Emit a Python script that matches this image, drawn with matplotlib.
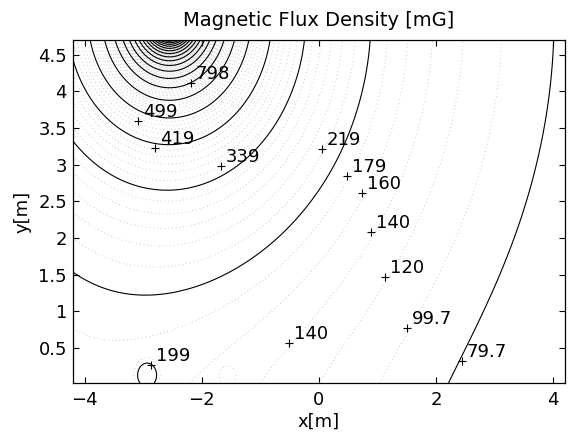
import numpy as np
import matplotlib
matplotlib.use("Agg")
from matplotlib import pyplot as plt

plt.rcParams['font.family'] = ['DejaVu Sans']

## overhead line (main source) and a broad background source
line_x = -2.55
line_y = 5.04
line_amp = 800.0
line_r0 = 5.66
bg_x = -6.69
bg_y = -7.36
bg_amp = 414.0
bg_sig = 4.01

## two small local sources at the ground (flat topped bumps)
spot_x = [-2.93, -1.53]
spot_y = [0.12, 0.08]
spot_amp = [45.0, 13.0]
spot_sig = [0.145, 0.13]

## contour levels, mG
level_start = 79.7
level_step = 19.96

## manual clabel points
label_x = [-2.19, -3.09, -2.80, -1.68, 0.05, 0.48, 0.74, 0.89, 1.13, 1.50, 2.44, -0.51, -2.87]
label_y = [4.11, 3.60, 3.22, 2.98, 3.21, 2.85, 2.61, 2.08, 1.47, 0.77, 0.32, 0.57, 0.27]
label_txt = ['798', '499', '419', '339', '219', '179', '160', '140', '120', '99.7', '79.7', '140', '199']


def flux(x, y):
	r = np.sqrt((x-line_x)**2 + (y-line_y)**2)
	b = line_amp/(r*np.sqrt(1+(r/line_r0)**2))
	b = b + bg_amp*np.exp(-((x-bg_x)**2 + (y-bg_y)**2)/(2*bg_sig**2))
	for sx, sy, sa, ss in zip(spot_x, spot_y, spot_amp, spot_sig):
		q = ((x-sx)**2 + (y-sy)**2)/(2*ss**2)
		b = b + sa*np.exp(-q**2)
	return b


gx = np.linspace(-4.2, 4.2, 600)
gy = np.linspace(0.02, 4.7, 420)
X, Y = np.meshgrid(gx, gy)
Z = flux(X, Y)

levels = level_start + level_step*np.arange(0, 200)
levels = levels[levels < Z.max()]
light = [l for i, l in enumerate(levels) if i % 6]
dark = levels[::6]

fig = plt.figure(figsize=(5.71, 4.34), dpi=100)
ax = fig.add_axes([0.1278, 0.1175, 0.8617, 0.7905])

ax.contour(X, Y, Z, levels=light, colors='0.72', linewidths=0.6, linestyles=[(0, (1, 3.5))])
ax.contour(X, Y, Z, levels=dark, colors='k', linewidths=0.8)

ax.plot(label_x, label_y, 'k+', ms=6, mew=0.8)
for lx, ly, lt in zip(label_x, label_y, label_txt):
	ax.annotate(lt, (lx, ly), xytext=(3.5, 0), textcoords='offset points',
				ha='left', va='bottom', fontsize=13)

ax.set_xlim(-4.2, 4.2)
ax.set_ylim(0.02, 4.7)
ax.set_xticks([-4, -2, 0, 2, 4])
ax.set_yticks([0.5, 1, 1.5, 2, 2.5, 3, 3.5, 4, 4.5])
ax.set_yticklabels(['0.5', '1', '1.5', '2', '2.5', '3', '3.5', '4', '4.5'])
ax.tick_params(direction='in', top=True, right=True, length=4, width=0.8, labelsize=13)
ax.tick_params(axis='x', pad=5.5)
ax.tick_params(axis='y', pad=4.3)
for sp in ax.spines.values():
	sp.set_linewidth(0.9)

ax.set_title("Magnetic Flux Density [mG]", fontsize=14, pad=10)
ax.set_xlabel("x[m]", fontsize=13, labelpad=3)
ax.set_ylabel("y[m]", fontsize=13, labelpad=5)

fig.savefig('out.png')
